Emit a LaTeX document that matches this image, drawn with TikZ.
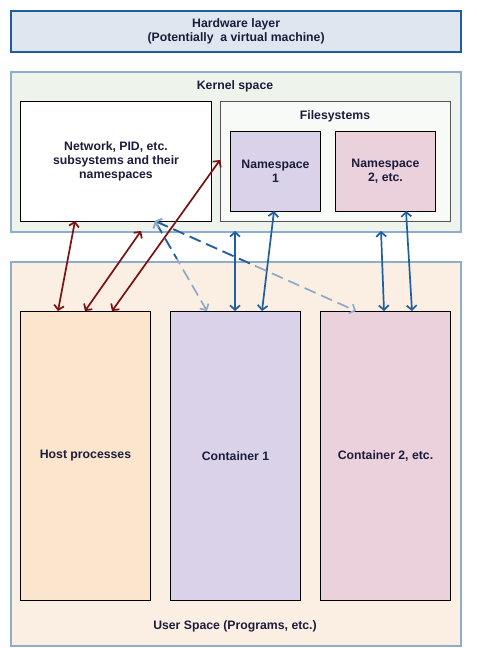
\documentclass[tikz,border=0pt]{standalone}
\usepackage{fontspec}
\setmainfont{Liberation Sans}
\usetikzlibrary{arrows.meta,calc}
\definecolor{hwfill}{HTML}{DEE6F0}
\definecolor{hwline}{HTML}{1F5B9E}
\definecolor{kfill}{HTML}{EEF4EC}
\definecolor{spline}{HTML}{8EACCB}
\definecolor{fsfill}{HTML}{F7FAF6}
\definecolor{fsline}{HTML}{555555}
\definecolor{lav}{HTML}{D9D2E9}
\definecolor{pink}{HTML}{EAD1DC}
\definecolor{ufill}{HTML}{FBEEE3}
\definecolor{hostfill}{HTML}{FCE5CD}
\definecolor{txt}{HTML}{1C1C3C}
\definecolor{darkred}{HTML}{7A1212}
\definecolor{arrblue}{HTML}{1F5FA0}
\definecolor{lightblue}{HTML}{8FAAC6}
\tikzset{
  every node/.style={font=\fontsize{12.3}{14}\selectfont\bfseries, text=txt, align=center, inner sep=0pt},
  box/.style={draw=black, line width=1bp, rectangle, anchor=north west},
  redarr/.style={draw=darkred, line width=1.7bp, {Straight Barb[length=4.5bp,width=10bp]}-{Straight Barb[length=4.5bp,width=10bp]}},
  bluearr/.style={draw=arrblue, line width=1.7bp, {Straight Barb[length=4.5bp,width=10bp]}-{Straight Barb[length=4.5bp,width=10bp]}},
  dasharr/.style={draw=lightblue, line width=1.7bp, dash pattern=on 12bp off 6bp, {Straight Barb[length=4.5bp,width=10bp]}-{Straight Barb[length=4.5bp,width=10bp]}},
  dashdark/.style={draw=arrblue, line width=1.7bp, dash pattern=on 12bp off 6bp, {Straight Barb[length=4.5bp,width=10bp,color=lightblue]}-},
}
\begin{document}
\begin{tikzpicture}[x=1bp,y=-1bp]
\useasboundingbox (0,0) rectangle (477,648);
% hardware
\node[box, draw=hwline, fill=hwfill, line width=2.2bp, minimum width=450bp, minimum height=41bp] (hw) at (10,10) {};
\node (hwt) at (hw.center) {Hardware layer\\(Potentially\ \ a virtual machine)};
% kernel
\node[box, draw=spline, fill=kfill, line width=2.2bp, minimum width=450bp, minimum height=160bp] (kern) at (10,71) {};
\node (kernt) at (235,86) {Kernel space};
\node[box, fill=white, minimum width=191bp, minimum height=120bp] (net) at (20,101) {Network, PID, etc.\\subsystems and their\\namespaces};
\node[box, draw=fsline, fill=fsfill, minimum width=230bp, minimum height=120bp] (fs) at (220,101) {};
\node (fst) at (335,116) {Filesystems};
\node[box, fill=lav, minimum width=90bp, minimum height=80bp] (ns1) at (230,131) {Namespace\\1};
\node[box, fill=pink, minimum width=100bp, minimum height=80bp] (ns2) at (335,131) {Namespace\\2, etc.};
% user space
\node[box, draw=spline, fill=ufill, line width=2.2bp, minimum width=450bp, minimum height=384bp] (user) at (10,261) {};
\node (usert) at (235,626) {User Space (Programs, etc.)};
\node[box, fill=hostfill, minimum width=130bp, minimum height=289bp] (host) at (20,311) {Host processes};
\node[box, fill=lav, minimum width=130bp, minimum height=289bp] (c1) at (170,311) {Container 1};
\node[box, fill=pink, minimum width=130bp, minimum height=289bp] (c2) at (320,311) {Container 2, etc.};
% anchor coordinates
\coordinate (netA) at (75,221);
\coordinate (kernA) at (141,231);
\coordinate (netB) at (220,160);
\coordinate (hostA) at (58,311);
\coordinate (hostB) at (85,311);
\coordinate (hostC) at (112,311);
\coordinate (kernB) at (235,231);
\coordinate (c1A) at (235,311);
\coordinate (ns1A) at (274,211);
\coordinate (c1B) at (262,311);
\coordinate (kernC) at (381,231);
\coordinate (c2A) at (384,311);
\coordinate (ns2A) at (406,211);
\coordinate (c2B) at (412,311);
\coordinate (netC) at (155,221);
\coordinate (c1C) at (207,311);
\coordinate (c2C) at (356,311);
% dark red arrows
\draw[redarr] (netA) -- (hostA);
\draw[redarr] (kernA) -- (hostB);
\draw[redarr] (netB) -- (hostC);
% blue arrows
\draw[bluearr] (kernB) -- (c1A);
\draw[bluearr] (ns1A) -- (c1B);
\draw[bluearr] (kernC) -- (c2A);
\draw[bluearr] (ns2A) -- (c2B);
% dashed arrows
\draw[dasharr] (netC) -- (c1C);
\draw[dasharr] (netC) -- (c2C);
\draw[dashdark] (netC) -- ($(netC)!0.42!(c1C)$);
\draw[dashdark] (netC) -- ($(netC)!0.5!(c2C)$);
\end{tikzpicture}
\end{document}
